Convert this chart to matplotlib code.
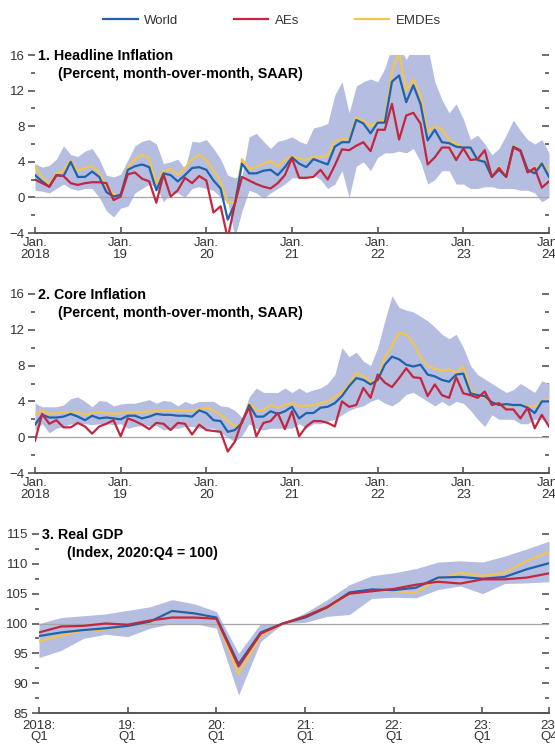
import matplotlib
matplotlib.use('Agg')
import matplotlib.pyplot as plt
import numpy as np

plt.rcParams['font.family'] = ['Liberation Sans', 'DejaVu Sans']

# ---------------- data ----------------
series_names = ["World", "AEs", "EMDEs"]
month_ticks = ["Jan.\n2018", "Jan.\n19", "Jan.\n20", "Jan.\n21", "Jan.\n22", "Jan.\n23", "Jan.\n24"]
quarter_ticks = ["2018:\nQ1", "19:\nQ1", "20:\nQ1", "21:\nQ1", "22:\nQ1", "23:\nQ1", "23:\nQ4"]

# Headline inflation, monthly Jan 2018 - Jan 2024
head_world = [2.5, 1.8, 1.2, 2.5, 2.4, 4.0, 2.3, 2.3, 2.9, 2.3, 0.6, 0.1,
              0.3, 3.1, 3.5, 3.7, 3.4, 0.8, 2.7, 2.5, 1.8, 2.5, 3.3, 3.4,
              3.1, 1.9, 1.0, -2.5, -0.7, 3.8, 2.7, 2.7, 3.0, 3.1, 2.5, 3.4,
              4.5, 3.8, 3.4, 4.3, 4.0, 3.7, 5.7, 6.2, 6.2, 8.7, 8.3, 7.2,
              8.4, 8.4, 13.0, 13.7, 10.7, 12.6, 10.5, 6.4, 7.6, 6.2, 6.1, 5.7,
              5.6, 5.6, 4.2, 4.0, 2.3, 3.1, 2.3, 5.7, 5.3, 3.1, 2.7, 3.8,
              2.3]
head_ae = [2.0, 1.6, 1.2, 2.5, 2.4, 1.6, 1.4, 1.6, 1.7, 1.7, 1.6, -0.3,
           0.1, 2.6, 2.8, 2.1, 1.8, -0.6, 2.6, 0.1, 0.8, 2.2, 1.6, 2.4,
           1.9, -1.7, -1.0, -4.6, -0.7, 2.3, 1.9, 1.5, 1.2, 1.0, 1.6, 2.5,
           4.4, 2.2, 2.2, 2.3, 3.1, 2.0, 3.6, 5.4, 5.3, 5.8, 6.2, 5.2,
           7.6, 7.6, 10.5, 6.5, 9.2, 9.5, 8.3, 3.7, 4.5, 5.6, 5.6, 4.2,
           5.5, 4.2, 4.3, 5.3, 2.3, 3.3, 2.3, 5.6, 5.2, 2.8, 3.3, 1.1,
           1.8]
head_em = [3.4, 2.3, 1.5, 2.7, 3.0, 4.2, 3.0, 3.3, 3.5, 2.8, 1.2, 0.4,
           0.2, 3.4, 4.3, 4.8, 4.4, 1.5, 3.0, 3.2, 2.5, 3.3, 4.3, 4.8,
           4.2, 3.0, 1.8, -0.6, -0.5, 4.3, 3.2, 3.4, 3.8, 4.1, 3.5, 4.2,
           4.6, 4.4, 4.2, 4.6, 4.5, 4.7, 6.3, 6.6, 6.5, 9.0, 8.6, 8.0,
           8.5, 8.7, 14.2, 16.3, 12.0, 13.3, 11.5, 7.3, 8.0, 7.6, 6.5, 6.0,
           5.6, 5.5, 4.3, 4.0, 2.3, 3.4, 2.3, 5.8, 5.4, 3.0, 3.3, 3.8,
           3.0]
head_hi = [3.8, 3.4, 3.6, 4.3, 5.8, 4.8, 4.6, 5.2, 5.5, 4.3, 2.5, 2.3,
           2.6, 4.2, 5.8, 6.3, 6.5, 6.0, 3.8, 4.0, 4.3, 3.2, 6.3, 6.2,
           6.5, 5.5, 4.3, 2.5, 2.2, 2.5, 6.8, 7.2, 6.3, 5.5, 6.3, 6.5,
           6.8, 6.3, 6.0, 7.8, 8.0, 8.3, 11.5, 13.0, 9.5, 12.5, 13.0, 13.3,
           13.0, 14.5, 17.0, 17.0, 15.5, 17.0, 17.0, 17.0, 13.0, 11.0, 9.5, 10.5,
           8.8, 6.5, 7.0, 6.0, 4.8, 5.5, 7.0, 8.7, 7.5, 6.5, 6.0, 6.5,
           5.0]
head_lo = [0.8, 0.7, 0.5, 1.0, 1.5, 1.0, 0.8, 1.0, 1.0, 0.0, -1.5, -2.2,
           -1.2, -1.0, 0.5, 1.0, 1.5, 1.2, -0.5, 0.5, 0.5, 0.0, 1.0, 1.2,
           1.0, 0.8, 0.0, -0.5, -4.5, -1.5, 0.8, 0.5, -0.1, 0.5, 1.0, 1.5,
           2.2, 2.2, 2.2, 2.5, 2.0, 1.0, 1.5, 3.0, 0.0, 3.5, 4.0, 3.0,
           4.5, 5.0, 5.0, 5.2, 5.0, 5.5, 4.0, 1.5, 2.0, 3.0, 3.0, 1.5,
           1.5, 1.0, 1.0, 1.2, 1.2, 1.0, 1.0, 1.0, 0.8, 0.8, 0.5, -0.5,
           0.0]

# Core inflation, monthly Jan 2018 - Jan 2024
core_world = [1.4, 2.5, 2.2, 2.2, 2.3, 2.6, 2.3, 1.9, 2.4, 2.1, 2.2, 2.1,
              2.0, 2.4, 2.4, 2.1, 2.3, 2.6, 2.5, 2.5, 2.4, 2.4, 2.3, 3.0,
              2.7, 1.9, 1.8, 0.6, 0.8, 1.6, 3.6, 2.3, 2.3, 2.9, 2.6, 2.9,
              3.4, 2.1, 2.7, 2.7, 3.3, 3.4, 3.8, 4.6, 5.7, 6.6, 6.4, 5.9,
              6.4, 8.1, 9.0, 8.7, 8.1, 7.9, 8.1, 7.0, 6.8, 6.4, 6.2, 7.0,
              7.1, 4.9, 4.7, 4.6, 3.9, 3.6, 3.7, 3.6, 3.6, 3.3, 2.7, 4.0,
              4.0]
core_ae = [-0.4, 2.6, 1.5, 1.9, 1.1, 1.1, 1.6, 1.2, 0.4, 1.2, 1.5, 1.9,
           0.1, 2.1, 1.8, 1.4, 0.9, 1.6, 1.5, 0.8, 1.6, 1.5, 0.3, 1.4,
           0.8, 0.7, 0.6, -1.6, -0.5, 1.8, 3.3, 0.1, 1.6, 1.8, 2.7, 0.9,
           2.9, 0.1, 1.2, 1.8, 1.8, 1.6, 1.2, 4.0, 3.4, 3.6, 5.5, 4.4,
           7.0, 6.1, 5.6, 6.6, 7.7, 6.7, 6.6, 4.6, 5.9, 4.7, 4.4, 6.7,
           4.9, 4.7, 4.4, 5.1, 3.6, 3.8, 3.1, 3.1, 2.1, 3.3, 1.0, 2.5,
           1.2]
core_em = [2.5, 3.0, 2.6, 2.7, 2.8, 2.7, 2.8, 2.5, 2.7, 2.8, 2.7, 2.6,
           2.7, 2.8, 2.8, 2.8, 2.9, 2.9, 3.0, 3.0, 3.0, 3.0, 3.0, 3.1,
           3.3, 3.0, 2.5, 1.8, 1.2, 1.5, 3.8, 3.0, 3.0, 3.6, 3.3, 3.6,
           3.8, 3.5, 3.5, 3.6, 3.8, 4.0, 4.5, 5.0, 5.9, 7.2, 6.8, 6.2,
           6.3, 8.9, 10.2, 11.7, 11.5, 10.5, 9.0, 7.9, 7.7, 7.4, 7.6, 7.2,
           7.9, 5.3, 4.6, 4.5, 3.8, 3.7, 3.6, 3.6, 3.6, 3.4, 3.4, 4.0,
           4.3]
core_hi = [3.8, 3.4, 3.4, 3.4, 3.6, 4.3, 4.5, 4.0, 3.4, 4.1, 4.0, 3.5,
           3.7, 3.8, 3.8, 4.0, 4.2, 3.8, 4.1, 4.0, 3.5, 4.0, 3.7, 4.0,
           4.0, 4.0, 3.5, 3.4, 3.0, 2.2, 4.5, 5.5, 5.0, 5.0, 5.0, 5.5,
           5.0, 5.5, 5.0, 5.3, 5.5, 6.0, 7.0, 10.0, 9.0, 9.5, 8.5, 8.0,
           10.0, 13.0, 15.8, 14.5, 14.2, 14.0, 13.5, 13.0, 12.3, 11.5, 11.0, 11.5,
           10.0, 8.0, 7.0, 6.5, 6.0, 5.5, 5.0, 5.3, 6.0, 5.5, 5.0, 6.3,
           6.0]
core_lo = [0.8, 1.5, 0.5, 1.0, 1.2, 1.5, 1.5, 1.5, 1.4, 1.5, 1.5, 1.4,
           1.5, 1.0, 1.2, 1.3, 1.3, 1.3, 0.8, 1.0, 1.0, 1.2, 1.2, 1.0,
           1.0, 1.0, 0.5, 0.0, -0.5, 0.2, 1.5, 1.0, 0.8, 1.0, 1.0, 1.0,
           1.0, 1.5, 1.0, 1.5, 1.5, 1.8, 2.0, 2.5, 3.0, 3.3, 3.5, 4.0,
           4.3, 3.8, 3.5, 4.0, 4.8, 5.0, 4.5, 4.0, 3.5, 4.0, 3.5, 4.0,
           3.8, 3.0, 2.0, 1.2, 2.5, 2.0, 2.0, 2.0, 1.5, 1.5, 2.0, 2.0,
           1.5]

# Real GDP, quarterly 2018Q1 - 2023Q4 (2020Q4 = 100)
gdp_world = [97.9, 98.5, 98.9, 99.2, 99.6, 100.3, 102.1, 101.7, 101.0, 93.2, 98.5, 100.0,
             101.0, 102.7, 105.2, 105.7, 105.6, 106.0, 107.7, 107.8, 107.5, 107.8, 109.1, 110.1]
gdp_ae = [98.5, 99.5, 99.6, 100.0, 99.8, 100.5, 101.0, 101.0, 100.8, 92.8, 98.3, 100.0,
          101.2, 102.8, 105.0, 105.4, 105.8, 106.5, 107.0, 106.7, 107.4, 107.4, 107.7, 108.4]
gdp_em = [97.0, 98.0, 98.8, 99.0, 99.6, 100.2, 102.1, 101.7, 100.8, 91.5, 98.0, 100.0,
          101.0, 102.5, 105.0, 105.6, 105.4, 105.2, 107.5, 108.5, 108.0, 108.5, 110.5, 112.0]
gdp_hi = [100.0, 101.0, 101.3, 101.6, 102.2, 102.8, 104.0, 103.3, 102.0, 95.0, 100.0, 100.0,
          101.8, 104.0, 106.5, 108.0, 108.5, 109.2, 110.3, 110.5, 110.3, 111.3, 112.5, 113.8]
gdp_lo = [94.3, 95.5, 97.5, 98.2, 97.8, 99.2, 100.0, 100.0, 99.2, 88.0, 97.0, 100.0,
          100.2, 101.2, 101.5, 104.2, 104.4, 104.3, 105.7, 106.3, 105.0, 106.7, 106.8, 107.0]

# ---------------- style ----------------
C_WORLD = '#1f62ad'
C_AE = '#c3263f'
C_EM = '#f2c450'
C_BAND = '#b5bde0'
TXT = '#333333'

W, H = 555, 751
fig = plt.figure(figsize=(W / 100, H / 100), dpi=100)


def rect(l, r, t, b):
    return [l / W, 1 - b / H, (r - l) / W, (b - t) / H]


def draw_panel(ax, x, world, ae, em, lo, hi, base):
    ax.fill_between(x, lo, hi, color=C_BAND, lw=0, zorder=1)
    ax.axhline(base, color='#a6a6a6', lw=0.9, zorder=2)
    ax.plot(x, em, color=C_EM, lw=1.6, zorder=3, solid_joinstyle='round')
    ax.plot(x, world, color=C_WORLD, lw=1.6, zorder=4, solid_joinstyle='round')
    ax.plot(x, ae, color=C_AE, lw=1.6, zorder=5, solid_joinstyle='round')


def style(ax, ylim, major, minor, ylabels, xt, xl, xpad=3):
    ax.set_ylim(*ylim)
    ax.set_xlim(xt[0], xt[-1])
    for s in ['left', 'right', 'top']:
        ax.spines[s].set_visible(False)
    ax.spines['bottom'].set_color('#555555')
    ax.spines['bottom'].set_linewidth(1.4)
    ax.set_yticks(major)
    ax.set_yticks(minor, minor=True)
    ax.set_yticklabels(ylabels)
    ax.tick_params(axis='y', which='major', direction='out', length=5, width=1.2,
                   color='#555555', pad=2.5, labelsize=9.5, labelcolor=TXT)
    ax.tick_params(axis='y', which='minor', direction='out', length=3, width=1.2,
                   color='#555555')
    ax.set_xticks(xt)
    ax.set_xticklabels(xl)
    ax.tick_params(axis='x', direction='in', length=4, width=1.2, color='#555555',
                   pad=xpad, labelsize=9.5, labelcolor=TXT)
    for t in ax.get_xticklabels():
        t.set_linespacing(0.95)
    sec = ax.secondary_yaxis('right')
    sec.set_yticks(major)
    sec.set_yticks(minor, minor=True)
    sec.set_yticklabels([])
    sec.tick_params(which='major', direction='in', length=5, width=1.2, color='#555555')
    sec.tick_params(which='minor', direction='in', length=3, width=1.2, color='#555555')
    sec.spines['right'].set_visible(False)


def titles(ax, l1, l2, x2):
    ax.text(0.006, 0.995, l1, transform=ax.transAxes, fontsize=10.3, fontweight='bold',
            va='center', ha='left', color='black')
    ax.text(x2, 0.895, l2, transform=ax.transAxes, fontsize=10.3, fontweight='bold',
            va='center', ha='left', color='black')


months = np.arange(len(head_world))
month_pos = [0, 12, 24, 36, 48, 60, 72]
infl_major = [-4, 0, 4, 8, 12, 16]
infl_minor = [-2, 2, 6, 10, 14]
infl_labels = ['\u22124', '0', '4', '8', '12', '16']

ax1 = fig.add_axes(rect(35, 549, 55, 233))
draw_panel(ax1, months, head_world, head_ae, head_em, head_lo, head_hi, 0)
style(ax1, (-4, 16), infl_major, infl_minor, infl_labels, month_pos, month_ticks)
titles(ax1, '1. Headline Inflation', '(Percent, month-over-month, SAAR)', 0.045)

ax2 = fig.add_axes(rect(35, 549, 294, 473))
draw_panel(ax2, months, core_world, core_ae, core_em, core_lo, core_hi, 0)
style(ax2, (-4, 16), infl_major, infl_minor, infl_labels, month_pos, month_ticks)
titles(ax2, '2. Core Inflation', '(Percent, month-over-month, SAAR)', 0.045)

quarters = np.arange(len(gdp_world))
quarter_pos = [0, 4, 8, 12, 16, 20, 23]
ax3 = fig.add_axes(rect(39, 549, 534, 713))
draw_panel(ax3, quarters, gdp_world, gdp_ae, gdp_em, gdp_lo, gdp_hi, 100)
style(ax3, (85, 115), [85, 90, 95, 100, 105, 110, 115], [87.5, 92.5, 97.5, 102.5, 107.5, 112.5],
      ['85', '90', '95', '100', '105', '110', '115'], quarter_pos, quarter_ticks, xpad=5)
titles(ax3, '3. Real GDP', '(Index, 2020:Q4 = 100)', 0.055)

# legend
handles = [plt.Line2D([], [], color=c, lw=1.6) for c in (C_WORLD, C_AE, C_EM)]
fig.legend(handles, series_names, loc='center', bbox_to_anchor=(0.49, 1 - 21 / H),
           ncol=3, frameon=False, fontsize=9.5, handlelength=2.6, handletextpad=0.5,
           columnspacing=4.2, labelcolor=TXT)

fig.savefig('out.png', dpi=100)
